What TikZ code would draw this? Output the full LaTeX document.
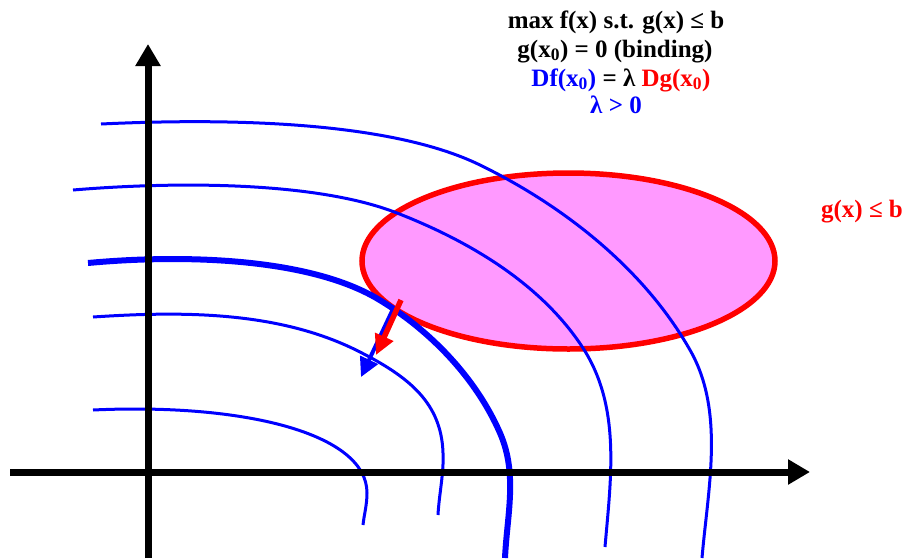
\documentclass[tikz,border=0pt]{standalone}
\usepackage{fontspec}
\setmainfont{Liberation Serif}
\usetikzlibrary{arrows.meta,shapes.geometric}
\definecolor{pinkfill}{RGB}{255,153,255}
\begin{document}
\begin{tikzpicture}[x=1pt,y=-1pt,
  lvl/.style={blue,line width=3pt},
  lvlthick/.style={blue,line width=6pt},
  axis/.style={black,line width=7pt,-{Triangle[length=22pt,width=24pt]}},
  txt/.style={font=\fontsize{25}{28}\selectfont\bfseries,inner sep=0pt,anchor=base}]
\useasboundingbox (0,0) rectangle (906,558);
% ellipse
\node[draw=red,line width=5.5pt,fill=pinkfill,ellipse,minimum width=413pt,minimum height=176pt,inner sep=0pt] (ell) at (568.5,261) {};
% level curves
\draw[lvl] (101,124) .. controls (228,118) and (390,121) .. (480,165)
  .. controls (564,206) and (644,269) .. (690,350)
  .. controls (725,411) and (708,488) .. (702,558);
\draw[lvl] (73,190) .. controls (181,181) and (318,182) .. (397,213)
  .. controls (469,241) and (541,283.5) .. (583,348)
  .. controls (621,407) and (611,477) .. (605,547);
\draw[lvlthick] (88,263) .. controls (185,254) and (309,258) .. (378,299)
  .. controls (430,330) and (476,378) .. (500,433)
  .. controls (518,474) and (507,515) .. (505,558);
\draw[lvl] (93,317) .. controls (183,311) and (280,311) .. (360,352)
  .. controls (409,377) and (441.5,403) .. (443,453)
  .. controls (444,473) and (439,495) .. (438,515);
\draw[lvl] (93,410) .. controls (243,403) and (367,433) .. (367,493)
  .. controls (367,505) and (364,515) .. (363,525);
% axes
\coordinate (ylo) at (148,558);
\coordinate (yhi) at (148,44);
\coordinate (xlo) at (10,472);
\coordinate (xhi) at (810,472);
\draw[axis] (ylo) -- (yhi);
\draw[axis] (xlo) -- (xhi);
% gradient arrows
\coordinate (bs) at (393,309);
\coordinate (be) at (361,377);
\coordinate (rs) at (401,300);
\coordinate (re) at (376,355);
\draw[blue,line width=4pt,-{Triangle[length=19pt,width=19pt]}] (bs) -- (be);
\draw[red,line width=5.5pt,-{Triangle[length=20pt,width=19pt]}] (rs) -- (re);
% texts
\node[txt] (t1) at (616,28) {max f(x) s.t. g(x) ≤ b};
\node[txt] (t2) at (615,57) {g(x\textsubscript{0}) = 0 (binding)};
\node[txt] (t3) at (621,86) {\textcolor{blue}{Df(x\textsubscript{0})} = λ \textcolor{red}{Dg(x\textsubscript{0})}};
\node[txt,text=blue] (t4) at (616,113) {λ > 0};
\node[txt,text=red] (t5) at (862,217) {g(x) ≤ b};
\end{tikzpicture}
\end{document}
